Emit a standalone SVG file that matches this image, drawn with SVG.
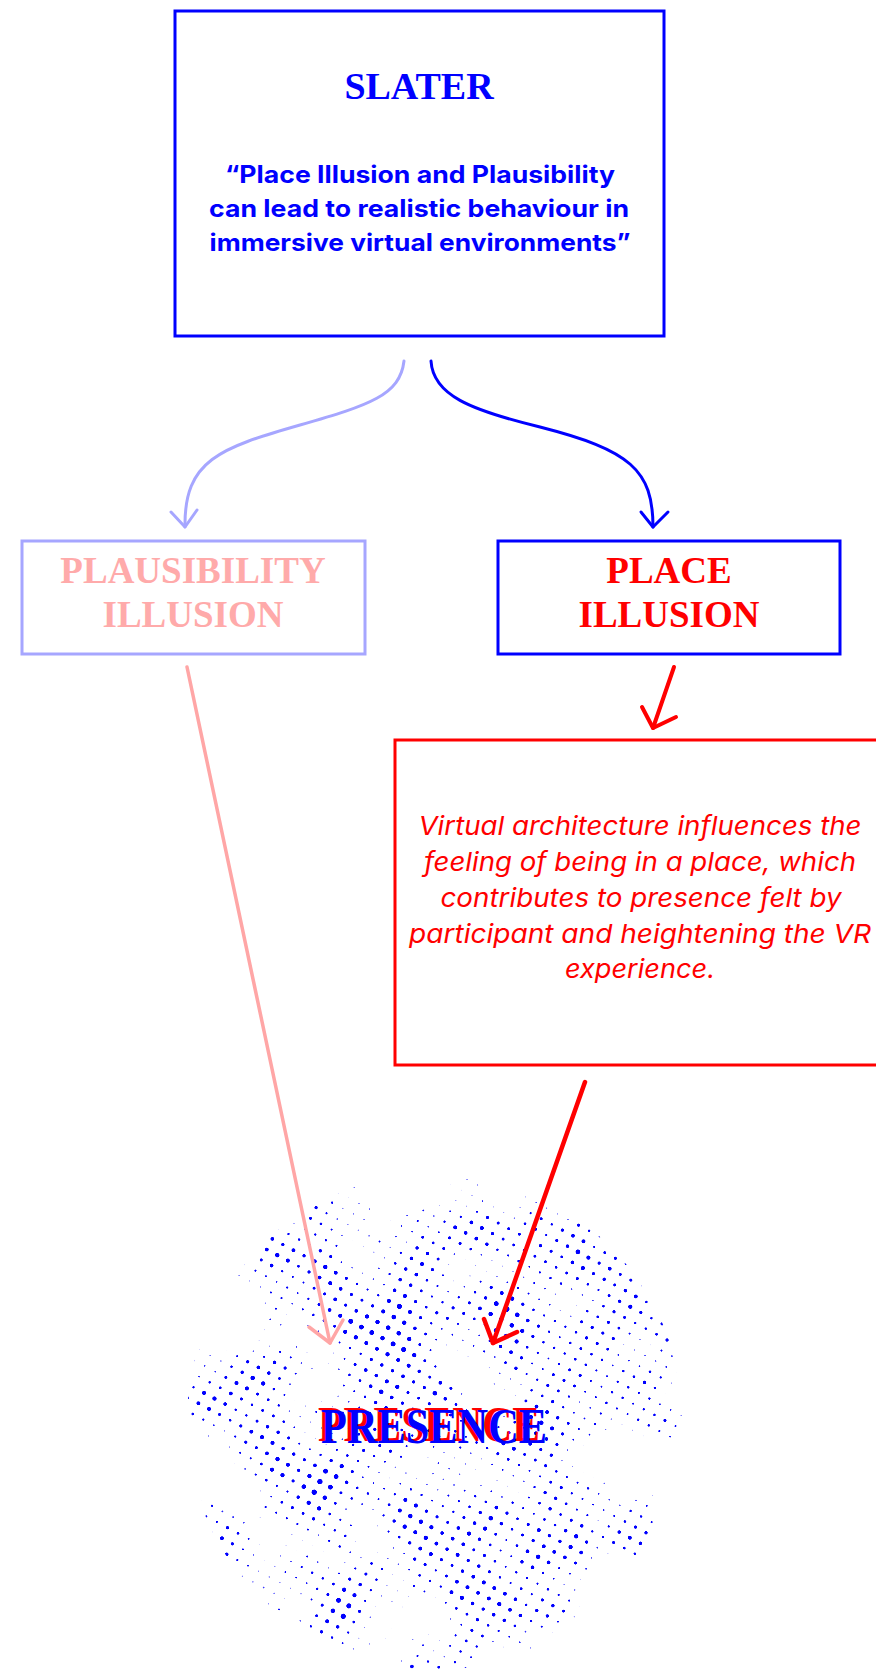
<svg xmlns="http://www.w3.org/2000/svg" width="876" height="1674" viewBox="0 0 876 1674">
  <style>
    .box { fill: none; stroke-width: 3; }
    .title { font-family: "Liberation Serif", "Times New Roman", serif; font-weight: bold; text-anchor: middle; }
    .quote { font-family: Inter, Lato, "Liberation Sans", sans-serif; font-weight: 700; font-size: 24px; fill: #0000ff; text-anchor: middle; }
    .note { font-family: Inter, Lato, "Liberation Sans", sans-serif; font-style: italic; font-size: 26px; fill: #ff0000; text-anchor: middle; }
    .link { fill: none; stroke-linecap: round; stroke-linejoin: round; }
  </style>
  <defs>
    <!-- soft grey cells: brightness falls off from each cell centre -->
    <radialGradient id="cellGlow">
      <stop offset="0" stop-color="#ffffff"/>
      <stop offset="1" stop-color="#000000"/>
    </radialGradient>
    <pattern id="cells" width="12" height="12" patternUnits="userSpaceOnUse" patternTransform="rotate(28)">
      <rect width="12" height="12" fill="#000000"/>
      <circle cx="6" cy="6" r="6" fill="url(#cellGlow)"/>
    </pattern>
    <!-- darkens the rim so dots thin out towards the edge of the disc -->
    <radialGradient id="rimShade" gradientUnits="userSpaceOnUse" cx="435" cy="1422" r="250">
      <stop offset="0.7" stop-color="#000000" stop-opacity="0"/>
      <stop offset="1" stop-color="#000000" stop-opacity="0.15"/>
    </radialGradient>
    <!-- halftone: cell brightness plus cloudy noise, thresholded into blue dots -->
    <filter id="halftone" filterUnits="userSpaceOnUse" x="170" y="1160" width="530" height="514" color-interpolation-filters="sRGB">
      <feTurbulence type="fractalNoise" baseFrequency="0.014" numOctaves="4" seed="11" result="raw"/>
      <feColorMatrix in="raw" type="matrix" values="1 0 0 0 0  1 0 0 0 0  1 0 0 0 0  0 0 0 0 1" result="noise"/>
      <feComposite in="SourceGraphic" in2="noise" operator="arithmetic" k1="0" k2="1" k3="0.8" k4="-0.4" result="sum"/>
      <feColorMatrix in="sum" type="matrix" values="0 0 0 0 0  0 0 0 0 0  0 0 0 0 1  12 0 0 0 -8.88"/>
    </filter>
    <clipPath id="disc">
      <circle cx="435" cy="1422" r="248"/>
    </clipPath>
  </defs>

  <rect width="876" height="1674" fill="#ffffff"/>

  <!-- dotted disc behind PRESENCE -->
  <g id="presence-field" clip-path="url(#disc)">
    <g filter="url(#halftone)">
      <rect x="170" y="1160" width="530" height="514" fill="url(#cells)"/>
      <rect x="170" y="1160" width="530" height="514" fill="url(#rimShade)"/>
    </g>
  </g>

  <g id="slater">
    <rect class="box" x="175" y="11" width="489" height="325" stroke="#0000ff"/>
    <text class="title" x="419" y="99" font-size="38" fill="#0000ff">SLATER</text>
    <text class="quote" x="420" y="183" textLength="390" lengthAdjust="spacingAndGlyphs">“Place Illusion and Plausibility</text>
    <text class="quote" x="419" y="217" textLength="420" lengthAdjust="spacingAndGlyphs">can lead to realistic behaviour in</text>
    <text class="quote" x="420" y="251" textLength="421" lengthAdjust="spacingAndGlyphs">immersive virtual environments”</text>
  </g>

  <g id="plausibility-illusion">
    <rect class="box" x="22" y="541" width="343" height="113" stroke="#a6a6ff"/>
    <text class="title" x="193" y="583" font-size="37" fill="#ffaaaa">PLAUSIBILITY</text>
    <text class="title" x="193" y="627" font-size="37" fill="#ffaaaa">ILLUSION</text>
  </g>

  <g id="place-illusion">
    <rect class="box" x="498" y="541" width="342" height="113" stroke="#0000ff" stroke-width="3.5"/>
    <text class="title" x="669" y="583" font-size="37" fill="#ff0000">PLACE</text>
    <text class="title" x="669" y="627" font-size="37" fill="#ff0000">ILLUSION</text>
  </g>

  <g id="architecture-note">
    <rect class="box" x="395" y="740" width="500" height="325" stroke="#ff0000"/>
    <text class="note" x="640" y="835" textLength="443" lengthAdjust="spacingAndGlyphs">Virtual architecture influences the</text>
    <text class="note" x="640" y="871" textLength="432" lengthAdjust="spacingAndGlyphs">feeling of being in a place, which</text>
    <text class="note" x="641" y="907" textLength="401" lengthAdjust="spacingAndGlyphs">contributes to presence felt by</text>
    <text class="note" x="640" y="943" textLength="462" lengthAdjust="spacingAndGlyphs">participant and heightening the VR</text>
    <text class="note" x="640" y="978" textLength="150" lengthAdjust="spacingAndGlyphs">experience.</text>
  </g>

  <g id="presence">
    <text class="title" x="429" y="1441" font-size="50" fill="#ff0000" textLength="222" lengthAdjust="spacingAndGlyphs">PRESENCE</text>
    <text class="title" x="434" y="1443" font-size="50" fill="#0000ff" textLength="226" lengthAdjust="spacingAndGlyphs">PRESENCE</text>
  </g>

  <g id="connectors">
    <!-- Slater to Plausibility Illusion -->
    <path class="link" stroke="#a6a6ff" stroke-width="3" d="M404 361 C400 395 370 405 300 425 C220 448 184 460 185 527"/>
    <polyline class="link" stroke="#a6a6ff" stroke-width="3" points="171,512 185,527 197,510"/>
    <!-- Slater to Place Illusion -->
    <path class="link" stroke="#0000ff" stroke-width="3" d="M431 361 C433 395 470 410 540 427 C630 450 653 470 653 527"/>
    <polyline class="link" stroke="#0000ff" stroke-width="3" points="641,512 653,527 668,512"/>
    <!-- Place Illusion to note -->
    <line class="link" stroke="#ff0000" stroke-width="4" x1="674" y1="667" x2="653" y2="728"/>
    <polyline class="link" stroke="#ff0000" stroke-width="4" points="642,707 653,728 676,717"/>
    <!-- note to Presence -->
    <line class="link" stroke="#ff0000" stroke-width="4.5" x1="585" y1="1082" x2="493" y2="1343"/>
    <polyline class="link" stroke="#ff0000" stroke-width="4.5" points="484,1319 493,1343 517,1332"/>
    <!-- Plausibility Illusion to Presence -->
    <line class="link" stroke="#ffa6a6" stroke-width="3.5" x1="187" y1="667" x2="330" y2="1343"/>
    <polyline class="link" stroke="#ffa6a6" stroke-width="3.5" points="309,1327 330,1343 343,1320"/>
  </g>
</svg>
